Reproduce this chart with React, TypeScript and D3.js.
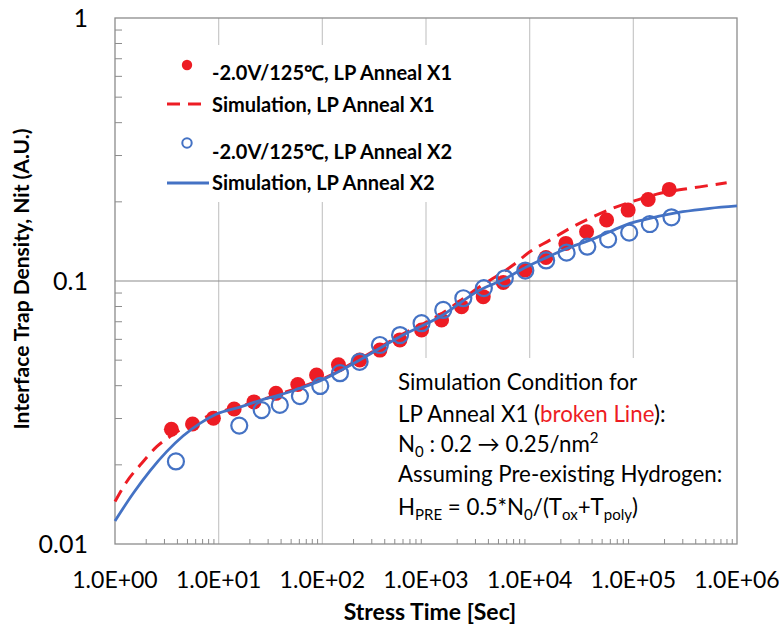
import React from "react";
import * as d3 from "d3";

// ---- Data ----
const seriesNames = [
  "-2.0V/125℃, LP Anneal X1",
  "Simulation, LP Anneal X1",
  "-2.0V/125℃, LP Anneal X2",
  "Simulation, LP Anneal X2",
];

// Measured, LP Anneal X1 (filled red)
const timeX1 = [3.5, 5.6, 8.9, 14.1, 21.9, 35.7, 58, 88, 143, 230, 359, 560, 906, 1413, 2203, 3565, 5560, 9000, 14350, 22340, 35400, 55200, 89100, 139000, 222000];
const nitX1 = [0.0273, 0.0286, 0.0301, 0.0326, 0.0347, 0.0374, 0.0404, 0.0439, 0.048, 0.0501, 0.0546, 0.0597, 0.0651, 0.0711, 0.0799, 0.0872, 0.0987, 0.110, 0.1228, 0.139, 0.154, 0.1706, 0.186, 0.204, 0.223];

// Measured, LP Anneal X2 (open blue)
const timeX2 = [3.87, 15.8, 26, 38.9, 60.8, 95.5, 148, 229, 359, 562, 906, 1466, 2291, 3614, 5754, 9078, 14420, 22700, 35970, 57150, 91200, 144200, 233300];
const nitX2 = [0.0206, 0.0282, 0.0323, 0.0338, 0.0365, 0.0399, 0.0446, 0.0493, 0.0571, 0.0623, 0.0691, 0.0776, 0.086, 0.094, 0.1024, 0.1096, 0.1197, 0.1282, 0.135, 0.144, 0.1527, 0.1647, 0.1747];

// Simulation, LP Anneal X1 (red dashed)
const simTimeX1 = [1, 1.297, 1.81, 2.525, 3.39, 4.73, 6.6, 9.57, 16.05, 25, 39, 61, 95, 230, 560, 1360, 3300, 6934, 10040, 15660, 24400, 36400, 63400, 108000, 168600, 437500, 795000];
const simNitX1 = [0.0145, 0.01725, 0.02027, 0.02344, 0.0256, 0.02786, 0.02973, 0.0315, 0.03334, 0.0352, 0.0372, 0.0394, 0.042, 0.0505, 0.062, 0.0745, 0.095, 0.115, 0.1292, 0.143, 0.1586, 0.1716, 0.189, 0.203, 0.214, 0.228, 0.2364];

// Simulation, LP Anneal X2 (blue solid)
const simTimeX2 = [1, 1.5, 2.176, 3.15, 4.556, 6.6, 9.57, 16.05, 25, 39, 60.8, 94.8, 230, 560, 1361, 3311, 5520, 9397, 14660, 22860, 38100, 59300, 92500, 144200, 300000, 547000, 1000000];
const simNitX2 = [0.01224, 0.0156, 0.01898, 0.02245, 0.02579, 0.02876, 0.03119, 0.03316, 0.03513, 0.0369, 0.0391, 0.0417, 0.0501, 0.0614, 0.0731, 0.0924, 0.101, 0.1133, 0.123, 0.133, 0.143, 0.154, 0.1657, 0.173, 0.1834, 0.189, 0.193];

const xTickValues = [1, 10, 100, 1000, 10000, 100000, 1000000];
const xTickLabels = ["1.0E+00", "1.0E+01", "1.0E+02", "1.0E+03", "1.0E+04", "1.0E+05", "1.0E+06"];
const yTickValues = [1, 0.1, 0.01];
const yTickLabels = ["1", "0.1", "0.01"];

const xTitle = "Stress Time [Sec]";
const yTitle = "Interface Trap Density, Nit (A.U.)";

const RED = "#ED1C24";
const BLUE = "#4472C4";
const FONT = "Lato, 'Open Sans', sans-serif";

export default function App() {
  const W = 779, H = 625;
  const left = 115, right = 737, top = 18, bottom = 544;
  const x = d3.scaleLog().domain([1, 1e6]).range([left, right]);
  const y = d3.scaleLog().domain([0.01, 1]).range([bottom, top]);

  const line = d3
    .line<[number, number]>()
    .x((d) => x(d[0]))
    .y((d) => y(d[1]))
    .curve(d3.curveMonotoneX);

  const sim1 = line(simTimeX1.map((t, i) => [t, simNitX1[i]]) as [number, number][]) || "";
  const sim2 = line(simTimeX2.map((t, i) => [t, simNitX2[i]]) as [number, number][]) || "";

  // minor ticks
  const xMinor: number[] = [];
  for (let e = 0; e < 6; e++) for (let m = 2; m <= 9; m++) xMinor.push(m * Math.pow(10, e));
  const yMinor: number[] = [];
  for (let e = -2; e < 0; e++) for (let m = 2; m <= 9; m++) yMinor.push(m * Math.pow(10, e));

  const frame = "#8c8c8c";

  return (
    <svg width={W} height={H} style={{ position: "absolute", left: 0, top: 0, background: "#fff" }} fontFamily={FONT}>
      <rect x={0} y={0} width={W} height={H} fill="#fff" />
      {/* vertical gridlines */}
      {xTickValues.slice(1, -1).map((v, i) => (
        <line key={"gx" + i} x1={x(v)} x2={x(v)} y1={top} y2={bottom} stroke="#c8c8c8" strokeWidth={1.2} />
      ))}
      {/* horizontal gridline at 0.1 */}
      <line x1={left} x2={right} y1={y(0.1)} y2={y(0.1)} stroke="#8c8c8c" strokeWidth={1.2} />

      {/* legend background */}
      <rect x={155} y={45} width={315} height={157} fill="#fff" />
      {/* annotation background */}
      <rect x={390} y={358} width={315} height={bottom - 358} fill="#fff" />

      {/* frame */}
      <rect x={left} y={top} width={right - left} height={bottom - top} fill="none" stroke={frame} strokeWidth={1.3} />
      {/* minor ticks */}
      {xMinor.map((v, i) => (
        <line key={"mx" + i} x1={x(v)} x2={x(v)} y1={bottom} y2={bottom - 5} stroke={frame} strokeWidth={1} />
      ))}
      {yMinor.map((v, i) => (
        <line key={"my" + i} x1={left} x2={left + 7} y1={y(v)} y2={y(v)} stroke={frame} strokeWidth={1} />
      ))}

      {/* measured X1 */}
      {timeX1.map((t, i) => (
        <circle key={"r" + i} cx={x(t)} cy={y(nitX1[i])} r={7.5} fill={RED} />
      ))}
      {/* sim X1 */}
      <path d={sim1} fill="none" stroke={RED} strokeWidth={3} strokeDasharray="13 8" />
      {/* measured X2 */}
      {timeX2.map((t, i) => (
        <circle key={"b" + i} cx={x(t)} cy={y(nitX2[i])} r={8} fill="none" stroke={BLUE} strokeWidth={2.2} />
      ))}
      {/* sim X2 */}
      <path d={sim2} fill="none" stroke={BLUE} strokeWidth={2.8} />

      {/* tick labels */}
      {xTickValues.map((v, i) => (
        <text key={"xl" + i} x={x(v)} y={588} textAnchor="middle" fontSize={23} fill="#000">
          {xTickLabels[i]}
        </text>
      ))}
      {yTickValues.map((v, i) => (
        <text key={"yl" + i} x={88} y={y(v)} dy="0.36em" textAnchor="end" fontSize={25} fill="#000">
          {yTickLabels[i]}
        </text>
      ))}

      {/* axis titles */}
      <text x={430} y={620} textAnchor="middle" fontSize={23} fontWeight="bold" fill="#000">
        {xTitle}
      </text>
      <text transform="translate(22,279) rotate(-90)" textAnchor="middle" dy="0.35em" fontSize={21} fontWeight="bold" fill="#000">
        {yTitle}
      </text>

      {/* legend */}
      <circle cx={187} cy={65} r={5.2} fill={RED} />
      <line x1={167} x2={204} y1={104} y2={104} stroke={RED} strokeWidth={3} strokeDasharray="13 8" />
      <circle cx={187} cy={143} r={4.7} fill="none" stroke={BLUE} strokeWidth={2} />
      <line x1={167} x2={209} y1={183} y2={183} stroke={BLUE} strokeWidth={2.8} />
      {[73, 105, 152, 183].map((yy, i) => (
        <text key={"lg" + i} x={212} y={yy} dy="0.35em" fontSize={20} fontWeight="bold" fill="#000">
          {seriesNames[i]}
        </text>
      ))}

      {/* annotation */}
      <g fontSize={22.3} fill="#000">
        <text x={398} y={382} dy="0.35em">Simulation Condition for</text>
        <text x={398} y={414} dy="0.35em">
          LP Anneal X1 (<tspan fill={RED}>broken Line</tspan>):
        </text>
        <text x={398} y={444} dy="0.35em">
          N<tspan fontSize={15} dy={5}>0</tspan>
          <tspan dy={-5}> : 0.2 → 0.25/nm</tspan>
          <tspan fontSize={15} dy={-9}>2</tspan>
        </text>
        <text x={398} y={474} dy="0.35em">Assuming Pre-existing Hydrogen:</text>
        <text x={398} y={507} dy="0.35em">
          H<tspan fontSize={15} dy={5}>PRE</tspan>
          <tspan dy={-5}> = 0.5*N</tspan>
          <tspan fontSize={15} dy={5}>0</tspan>
          <tspan dy={-5}>/(T</tspan>
          <tspan fontSize={15} dy={5}>ox</tspan>
          <tspan dy={-5}>+T</tspan>
          <tspan fontSize={15} dy={5}>poly</tspan>
          <tspan dy={-5}>)</tspan>
        </text>
      </g>
    </svg>
  );
}
